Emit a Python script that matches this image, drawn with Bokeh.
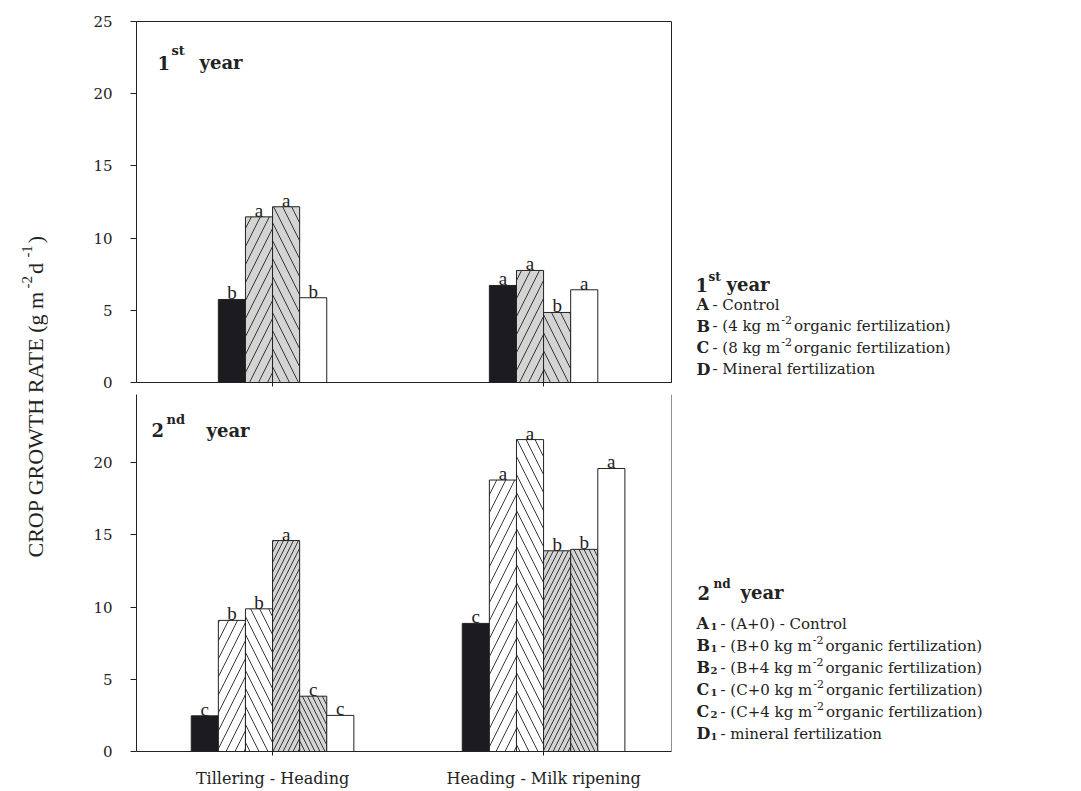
import math
import numpy as np
from bokeh.plotting import figure
from bokeh.models import Range1d, FixedTicker, Label, Span
from bokeh.layouts import row, column
from bokeh.core.properties import value
from bokeh.embed import file_html
from bokeh.resources import INLINE

# ---------------- data ----------------
categories = ["Tillering - Heading", "Heading - Milk ripening"]
cat_pos = [1, 2]

# 1st year
y1_A = [5.75, 6.72]
y1_B = [11.47, 7.76]
y1_C = [12.17, 4.85]
y1_D = [5.87, 6.42]
l1_A = ["b", "a"]
l1_B = ["a", "a"]
l1_C = ["a", "b"]
l1_D = ["b", "a"]

# 2nd year
y2_A1 = [2.47, 8.87]
y2_B1 = [9.08, 18.8]
y2_B2 = [9.88, 21.6]
y2_C1 = [14.61, 13.9]
y2_C2 = [3.83, 14.0]
y2_D1 = [2.5, 19.6]
l2_A1 = ["c", "c"]
l2_B1 = ["b", "a"]
l2_B2 = ["b", "a"]
l2_C1 = ["a", "b"]
l2_C2 = ["c", "b"]
l2_D1 = ["c", "a"]

yticks_top = [0, 5, 10, 15, 20, 25]
yticks_bottom = [0, 5, 10, 15, 20]

legend1_keys = ["A", "B", "C", "D"]
legend1_text = ["- Control", "- (4 kg m", "- (8 kg m", "- Mineral fertilization"]
legend1_sup = [None, "-2", "-2", None]
legend1_tail = [None, " organic fertilization)", " organic fertilization)", None]

legend2_keys = ["A", "B", "B", "C", "C", "D"]
legend2_sub = ["1", "1", "2", "1", "2", "1"]
legend2_text = ["- (A+0) - Control", "- (B+0 kg m", "- (B+4 kg m",
                "- (C+0 kg m", "- (C+4 kg m", "- mineral fertilization"]
legend2_sup = [None, "-2", "-2", "-2", "-2", None]
legend2_tail = [None, " organic fertilization)", " organic fertilization)",
                " organic fertilization)", " organic fertilization)", None]

# ---------------- styles ----------------
BLACK = "#1c1c20"
GRAY = "#d4d4d4"
INK = "#222222"
SERIF_W = "DejaVu Serif"
TIMES = "Liberation Serif"

W = {' ': .318, '(': .390, ')': .390, '-': .338, '+': .838,
     'a': .596, 'c': .560, 'd': .640, 'e': .592, 'f': .370, 'g': .640,
     'i': .320, 'k': .609, 'l': .320, 'm': .948, 'n': .644, 'o': .602,
     'r': .478, 't': .402, 'z': .525, 's': .513,
     'A': .722, 'B': .735, 'C': .765, 'D': .802, 'M': .995}
for d in "0123456789":
    W[d] = .636

TW = {' ': .25, '(': .333, ')': .333, '-': .333, 'C': .667, 'R': .667,
      'O': .722, 'P': .556, 'G': .722, 'W': .944, 'T': .611, 'H': .722,
      'A': .722, 'E': .611, 'g': .5, 'm': .778, 'd': .5}
for d in "0123456789":
    TW[d] = .5


def wid(s, size, table=W, bold=False):
    return sum(table.get(c, .6) for c in s) * size * (1.07 if bold else 1.0)


X0, X1 = 0.498, 2.472
H = 790
TOP_H = 394
BOT_H = H - TOP_H
PX_PER_UNIT = 14.48
BOT_TOP = (752 - TOP_H) / PX_PER_UNIT


def style_axes(p):
    p.xgrid.visible = False
    p.ygrid.visible = False
    for ax in p.axis:
        ax.axis_line_color = INK
        ax.axis_line_width = 1
        ax.major_tick_line_color = INK
        ax.minor_tick_line_color = None
        ax.major_tick_in = 0
        ax.major_label_text_color = INK
        ax.major_label_text_font = SERIF_W
    p.yaxis.major_tick_out = 6
    p.yaxis.major_label_text_font_size = "15px"
    p.yaxis.major_label_standoff = 18
    p.xaxis.major_tick_out = 4


def draw_bars(p, series, offsets):
    for (vals, lets, color, hatch, hscale), off in zip(series, offsets):
        xs = np.array(cat_pos, dtype=float) + off
        kw = {}
        if hatch:
            kw = dict(hatch_pattern=hatch, hatch_color=INK, hatch_scale=hscale, hatch_weight=0.9)
        p.vbar(x=xs, top=vals, bottom=0, width=0.1, fill_color=color,
               line_color=INK, line_width=1, **kw)
        p.text(x=xs, y=vals, text=lets, text_align="center", text_baseline="bottom",
               y_offset=4, text_font=value(TIMES), text_font_size="19px", text_color=INK)


# ---------------- top panel ----------------
top = figure(width=632, height=TOP_H, x_range=Range1d(X0, X1), y_range=Range1d(0, 25),
             output_backend="svg", toolbar_location=None,
             min_border_left=88, min_border_right=9, min_border_top=21,
             min_border_bottom=TOP_H - 382)
style_axes(top)
top.outline_line_color = INK
top.outline_line_width = 1
top.yaxis.ticker = FixedTicker(ticks=yticks_top)
top.xaxis.ticker = FixedTicker(ticks=cat_pos)
top.xaxis.major_label_overrides = {1: "", 2: ""}
top.xaxis.major_label_text_font_size = "0px"
top.xaxis.major_label_standoff = 0

series1 = [(y1_A, l1_A, BLACK, None, 0), (y1_B, l1_B, GRAY, "/", 18),
           (y1_C, l1_C, GRAY, "\\", 18), (y1_D, l1_D, "white", None, 0)]
draw_bars(top, series1, [-0.15, -0.05, 0.05, 0.15])


def tx(px):
    return X0 + (px - 136) / 271.0


def ty(py):
    return (382 - py) * 25 / 361.0


def by(py):
    return (752 - py) / PX_PER_UNIT


def title_parts(p, yfun, x_main, base, x_sup, sup_base, x_year, num, sup):
    p.add_layout(Label(x=tx(x_main), y=yfun(base), text=num, text_font=SERIF_W,
                       text_font_style="bold", text_font_size="18px", text_color=INK,
                       text_baseline="alphabetic", text_align="left"))
    p.add_layout(Label(x=tx(x_sup), y=yfun(sup_base), text=sup, text_font=SERIF_W,
                       text_font_style="bold", text_font_size="13px", text_color=INK,
                       text_baseline="alphabetic", text_align="left"))
    p.add_layout(Label(x=tx(x_year), y=yfun(base), text="year", text_font=SERIF_W,
                       text_font_style="bold", text_font_size="18px", text_color=INK,
                       text_baseline="alphabetic", text_align="left"))


title_parts(top, ty, 157, 62, 171, 50, 199, "1", "st")

# ---------------- bottom panel ----------------
bottom = figure(width=632, height=BOT_H, x_range=Range1d(X0, X1), y_range=Range1d(0, BOT_TOP),
                output_backend="svg", toolbar_location=None,
                min_border_left=88, min_border_right=9, min_border_top=0,
                min_border_bottom=H - 752)
style_axes(bottom)
bottom.outline_line_color = None
bottom.yaxis.ticker = FixedTicker(ticks=yticks_bottom)
bottom.xaxis.ticker = FixedTicker(ticks=cat_pos)
bottom.xaxis.major_label_overrides = {1: categories[0], 2: categories[1]}
bottom.xaxis.major_label_text_font_size = "16px"
bottom.xaxis.major_label_standoff = 13
bottom.add_layout(Span(location=X1, dimension="height", line_color=INK, line_width=1))

series2 = [(y2_A1, l2_A1, BLACK, None, 0), (y2_B1, l2_B1, "white", "/", 18),
           (y2_B2, l2_B2, "white", "\\", 18), (y2_C1, l2_C1, GRAY, "/", 10),
           (y2_C2, l2_C2, GRAY, "\\", 10), (y2_D1, l2_D1, "white", None, 0)]
draw_bars(bottom, series2, [-0.25, -0.15, -0.05, 0.05, 0.15, 0.25])

title_parts(bottom, by, 151, 430, 166, 419, 206, "2", "nd")

# ---------------- y label figure ----------------
labfig = figure(width=48, height=H, x_range=Range1d(0, 48), y_range=Range1d(0, H),
                output_backend="svg", toolbar_location=None, x_axis_type=None, y_axis_type=None,
                min_border=0)
labfig.outline_line_color = None
labfig.xgrid.visible = False
labfig.ygrid.visible = False


def LY(py):
    return H - py


ylab_parts = [("CROP GROWTH RATE (g m", 22, 35), ("-2", 15, 26), (" d", 22, 35), ("-1", 15, 26), (")", 22, 35)]
ycur = 557
for txt, size, bx in ylab_parts:
    labfig.add_layout(Label(x=bx, y=LY(ycur), text=txt, angle=math.pi / 2, text_font=TIMES,
                            text_font_size=f"{size}px", text_color=INK,
                            text_baseline="alphabetic", text_align="left"))
    ycur -= wid(txt, size, TW) + (2 if size < 20 else 0)

# ---------------- legend figure ----------------
legfig = figure(width=400, height=H, x_range=Range1d(680, 1080), y_range=Range1d(0, H),
                output_backend="svg", toolbar_location=None, x_axis_type=None, y_axis_type=None,
                min_border=0)
legfig.outline_line_color = None
legfig.xgrid.visible = False
legfig.ygrid.visible = False


def lab(fig, x, y, text, size, bold=False):
    fig.add_layout(Label(x=x, y=LY(y), text=text, text_font=SERIF_W,
                         text_font_style="bold" if bold else "normal",
                         text_font_size=f"{size}px", text_color=INK,
                         text_baseline="alphabetic", text_align="left"))


LS = 15
# 1st year legend
lab(legfig, 695, 284, "1", 18, True)
lab(legfig, 708, 276, "st", 12, True)
lab(legfig, 726, 284, "year", 18, True)
for i, (k, t, s, tl) in enumerate(zip(legend1_keys, legend1_text, legend1_sup, legend1_tail)):
    base = 304 + i * 21.5
    lab(legfig, 696, base, k, 16, True)
    x = 712
    lab(legfig, x, base, t, LS)
    if s:
        x += wid(t, LS) + 1
        lab(legfig, x, base - 6, s, 11)
        x += wid(s, 11) + 2
        lab(legfig, x, base, tl, LS)

# 2nd year legend
lab(legfig, 697, 592, "2", 18, True)
lab(legfig, 713, 583, "nd", 12, True)
lab(legfig, 740, 592, "year", 18, True)
for i, (k, sb, t, s, tl) in enumerate(zip(legend2_keys, legend2_sub, legend2_text, legend2_sup, legend2_tail)):
    base = 623 + i * 22
    lab(legfig, 696, base, k, 16, True)
    lab(legfig, 710, base + 3, sb, 10, True)
    x = 720
    lab(legfig, x, base, t, LS)
    if s:
        x += wid(t, LS) + 1
        lab(legfig, x, base - 6, s, 11)
        x += wid(s, 11) + 2
        lab(legfig, x, base, tl, LS)

layout = row(labfig, column(top, bottom), legfig)
open("out.html", "w").write(file_html(layout, INLINE))
